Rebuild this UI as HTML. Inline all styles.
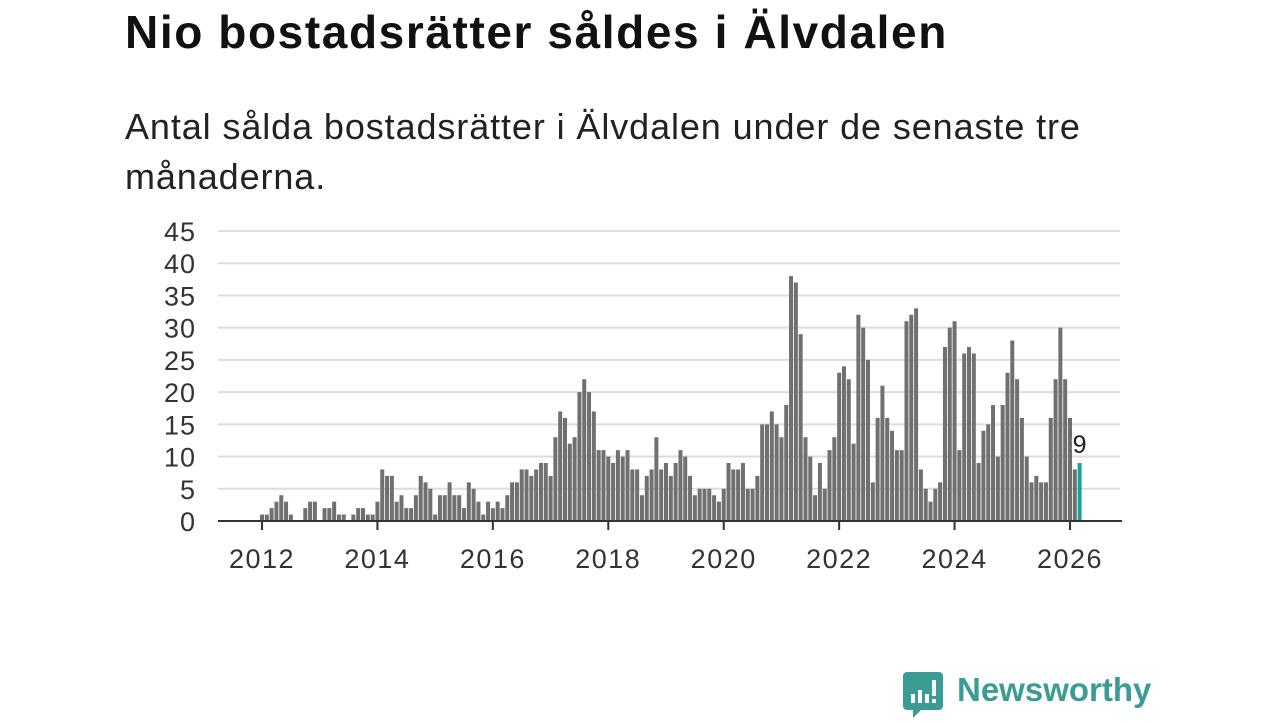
<!DOCTYPE html>
<html><head><meta charset="utf-8">
<style>
body{margin:0;width:1280px;height:720px;background:#fff;overflow:hidden;font-family:"Liberation Sans","DejaVu Sans",sans-serif;}
h1{position:absolute;left:125px;top:5px;margin:0;font-size:46px;letter-spacing:1.6px;font-weight:bold;color:#111;white-space:nowrap;}
.sub{position:absolute;left:125px;top:102px;margin:0;font-size:36px;letter-spacing:0.9px;line-height:50px;color:#222;width:1060px;}
svg{position:absolute;left:0;top:0;}
</style></head><body>
<h1>Nio bostadsrätter såldes i Älvdalen</h1>
<p class="sub">Antal sålda bostadsrätter i Älvdalen under de senaste tre månaderna.</p>
<svg id="chart" width="1280" height="720"></svg>
<div style="position:absolute;left:903px;top:672px;">
<svg width="40" height="46" viewBox="0 0 40 46" style="position:static"><path d="M4 0h32a4 4 0 0 1 4 4v30a4 4 0 0 1-4 4H18l-8 8v-8H4a4 4 0 0 1-4-4V4a4 4 0 0 1 4-4z" fill="#3b9c94"/><rect x="8" y="22" width="4" height="9" fill="#fff"/><rect x="15" y="18" width="4" height="13" fill="#fff"/><rect x="22" y="22" width="4" height="9" fill="#fff"/><rect x="29" y="8" width="4" height="16" fill="#fff"/><rect x="29" y="27" width="4" height="4" fill="#fff"/></svg>
</div>
<div style="position:absolute;left:957px;top:671px;font-size:33px;font-weight:bold;color:#3b9c94;">Newsworthy</div>
<script>
const values = [
1,1,2,3,4,3,1,0,0,2,3,3,
0,2,2,3,1,1,0,1,2,2,1,1,
3,8,7,7,3,4,2,2,4,7,6,5,
1,4,4,6,4,4,2,6,5,3,1,3,
2,3,2,4,6,6,8,8,7,8,9,9,
7,13,17,16,12,13,20,22,20,17,11,11,
10,9,11,10,11,8,8,4,7,8,13,8,
9,7,9,11,10,7,4,5,5,5,4,3,
5,9,8,8,9,5,5,7,15,15,17,15,
13,18,38,37,29,13,10,4,9,5,11,13,
23,24,22,12,32,30,25,6,16,21,16,14,
11,11,31,32,33,8,5,3,5,6,27,30,
31,11,26,27,26,9,14,15,18,10,18,23,
28,22,16,10,6,7,6,6,16,22,30,22,
16,8,9];
const startYear = 2012;
const yTicks = [0,5,10,15,20,25,30,35,40,45];
const xTicks = [2012,2014,2016,2018,2020,2022,2024,2026];
const NS="http://www.w3.org/2000/svg";
const svg=document.getElementById('chart');
const x0=262, perYear=(1070-262)/14, y0=521, perUnit=(521-231)/45;
const xScale=m=>x0+m*perYear/12;
const yScale=v=>y0-v*perUnit;
function mk(t,a){const e=document.createElementNS(NS,t);for(const k in a)e.setAttribute(k,a[k]);svg.appendChild(e);return e;}
yTicks.forEach(v=>{
 const l=mk('line',{x1:218,x2:1120,y1:yScale(v),y2:yScale(v),stroke:'#ddd','stroke-width':2});
 
 
 const t=mk('text',{x:196,y:yScale(v)+10,'text-anchor':'end','font-size':27,'letter-spacing':1,fill:'#333','font-family':'Liberation Sans, sans-serif'});
 t.textContent=v;
 
 
});
values.forEach((v,i)=>{
 const last=i===values.length-1;
 const r=mk('rect',{x:xScale(i)-2,y:yScale(v),width:4,height:v*perUnit,fill:last?'#1aa39a':'#707073'});
 
 
});
const li=values.length-1;
const lb=mk('text',{x:xScale(li),y:yScale(values[li])-10,'text-anchor':'middle','font-size':25,fill:'#222','font-family':'Liberation Sans, sans-serif',stroke:'#fff','stroke-width':4,'paint-order':'stroke'});
lb.textContent=values[li];


const ax=mk('line',{x1:218,x2:1122,y1:y0,y2:y0,stroke:'#333','stroke-width':2});


xTicks.forEach(yr=>{
 const x=xScale((yr-startYear)*12);
 const tk=mk('line',{x1:x,x2:x,y1:y0,y2:y0+9,stroke:'#333','stroke-width':2});
 
 
 const t=mk('text',{x:x,y:568,'text-anchor':'middle','font-size':27,'letter-spacing':1.5,fill:'#333','font-family':'Liberation Sans, sans-serif'});
 t.textContent=yr;
 
 
});
</script>
</body></html>
